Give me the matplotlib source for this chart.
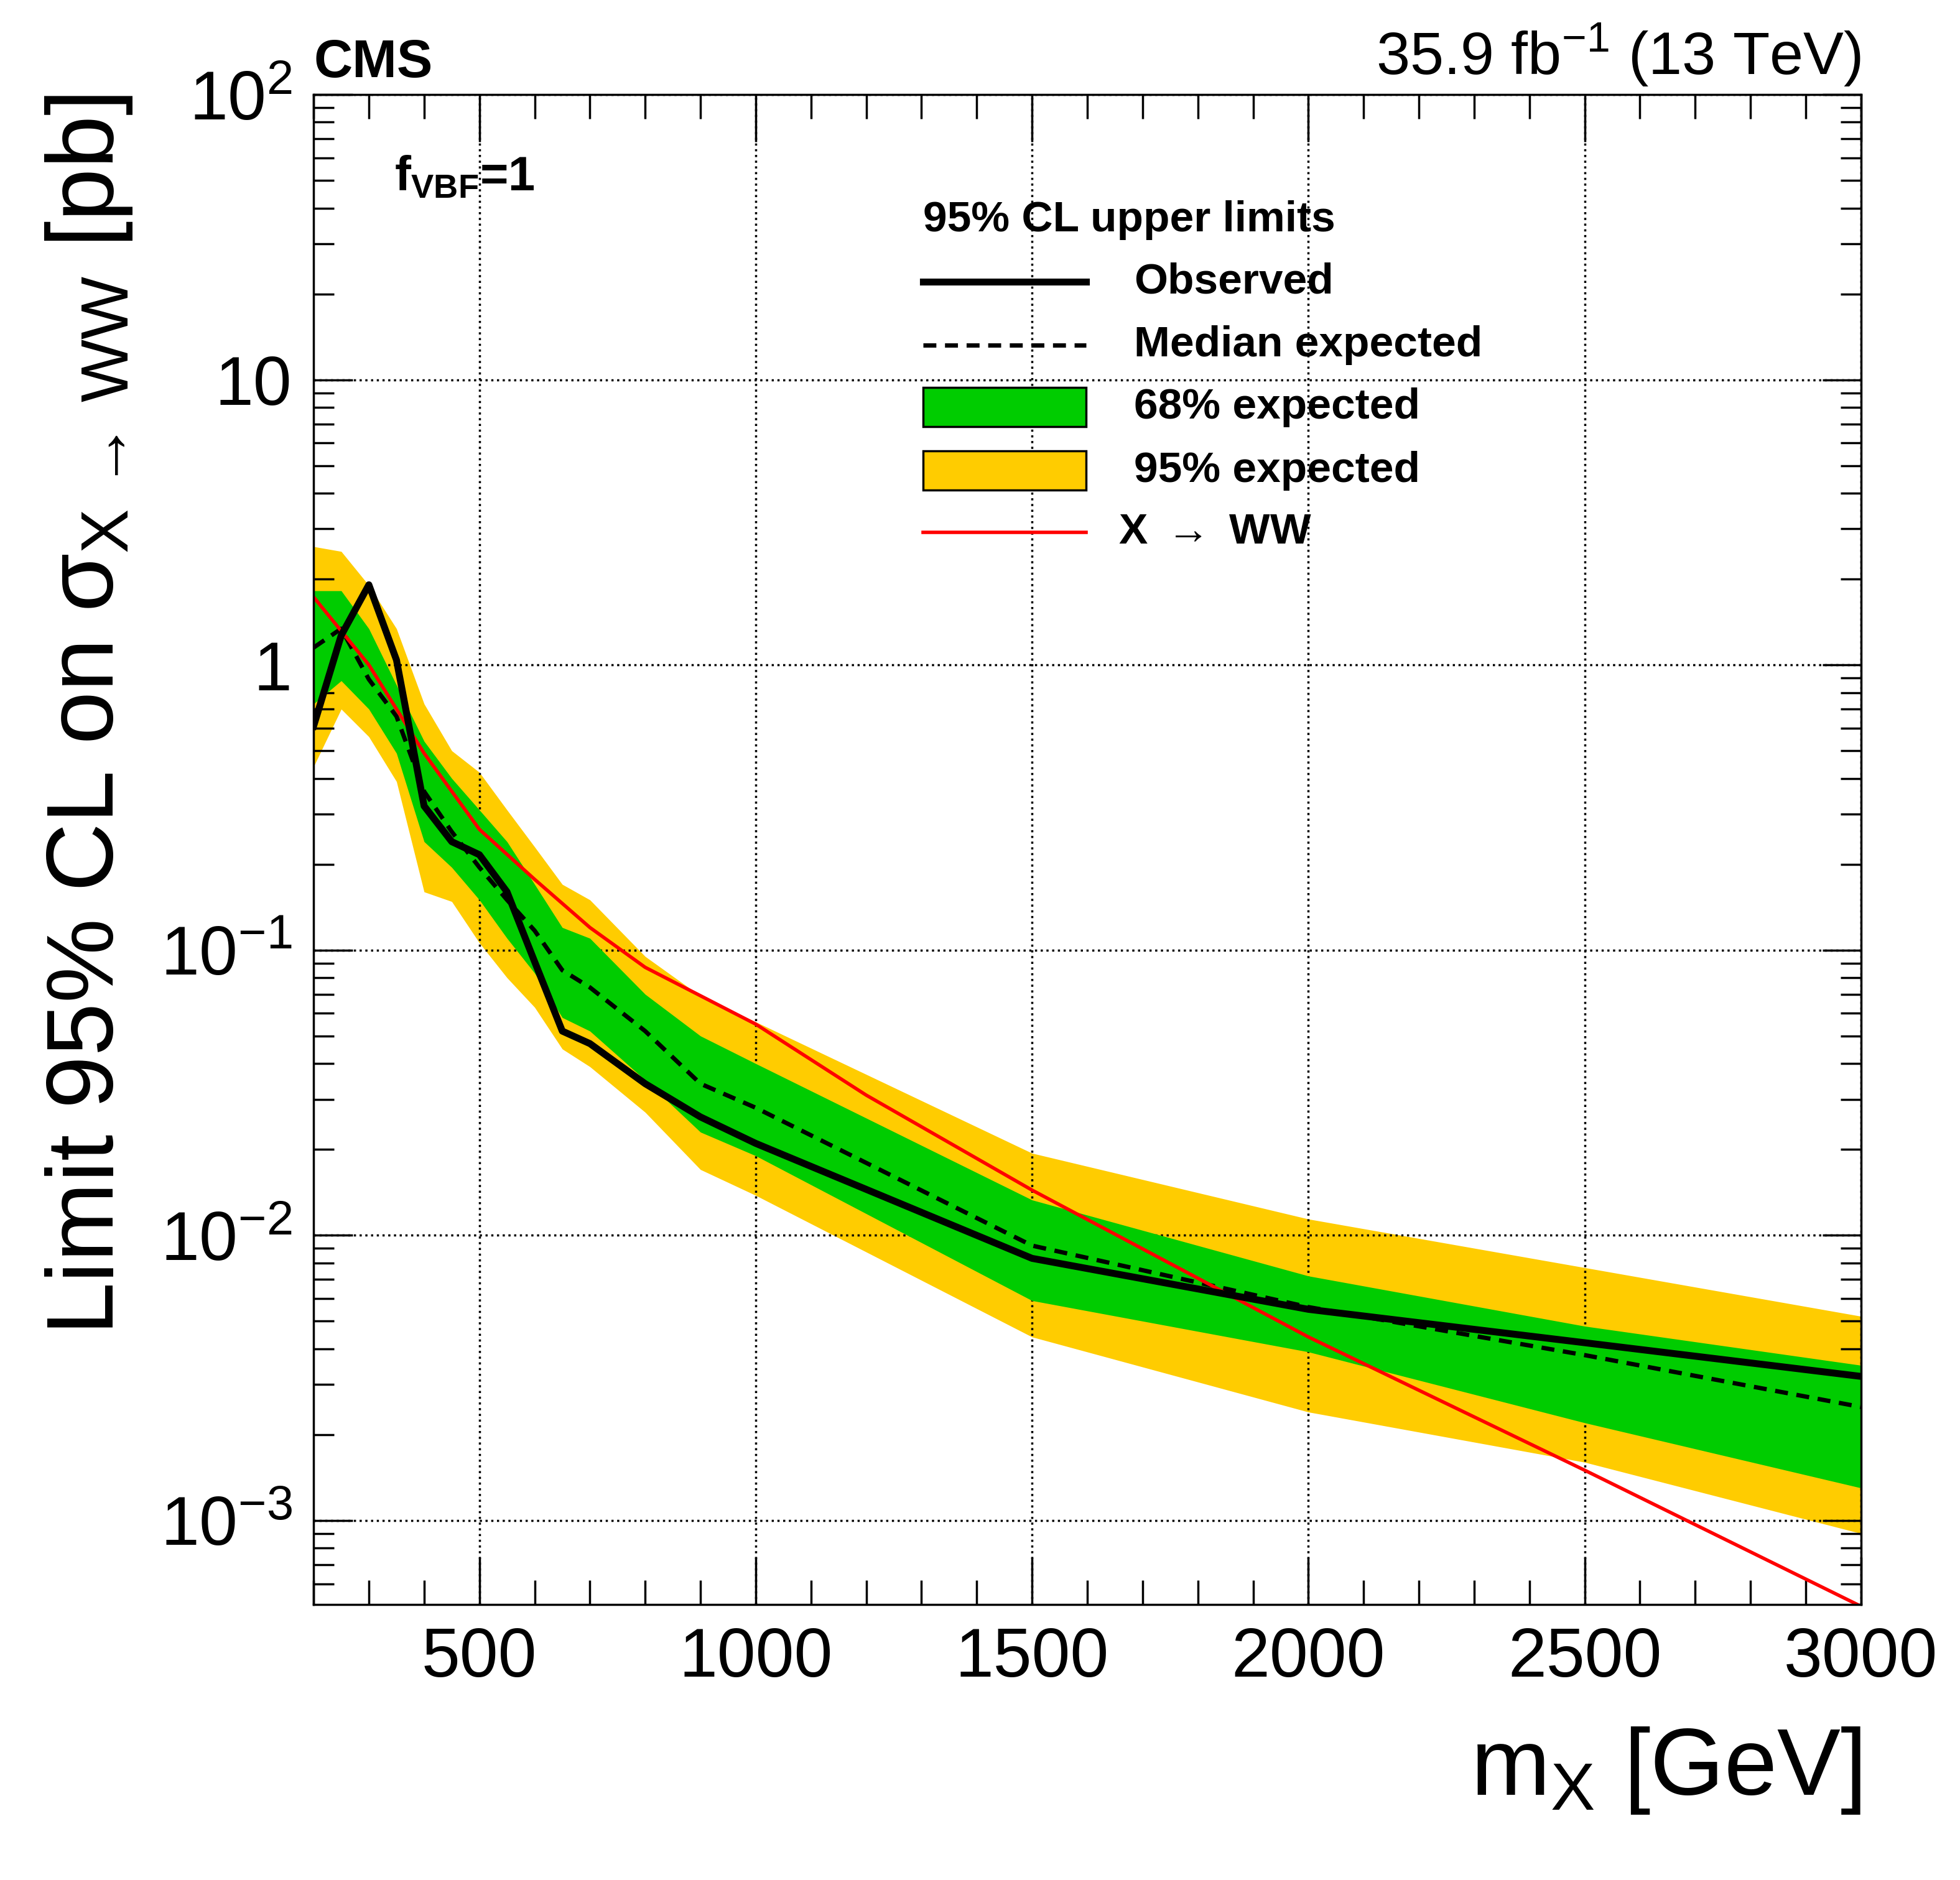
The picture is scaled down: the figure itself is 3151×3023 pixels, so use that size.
import matplotlib
matplotlib.use("Agg")
import matplotlib.pyplot as plt
from matplotlib.patches import Rectangle
from matplotlib.ticker import FixedLocator, NullFormatter, LogLocator

plt.rcParams['font.family'] = ['Liberation Sans', 'DejaVu Sans']
plt.rcParams['mathtext.fontset'] = 'custom'
plt.rcParams['mathtext.rm'] = 'Liberation Sans'
plt.rcParams['mathtext.it'] = 'Liberation Sans'
plt.rcParams['mathtext.bf'] = 'Liberation Sans:bold'

mass = [200, 250, 300, 350, 400, 450, 500, 550, 600, 650, 700, 800, 900, 1000, 1500, 2000, 2500, 3000]
observed = [0.61, 1.27, 1.91, 1.04, 0.32, 0.24, 0.216, 0.16, 0.091, 0.052, 0.047, 0.034, 0.026, 0.021, 0.0083, 0.0055, 0.0042, 0.0032]
expected = [1.15, 1.34, 0.89, 0.66, 0.36, 0.26, 0.195, 0.15, 0.117, 0.085, 0.074, 0.052, 0.034, 0.028, 0.0092, 0.0056, 0.0038, 0.0025]
s1_up = [1.82, 1.82, 1.34, 0.85, 0.54, 0.40, 0.31, 0.24, 0.17, 0.12, 0.11, 0.070, 0.050, 0.040, 0.0133, 0.0072, 0.0048, 0.0035]
s1_dn = [0.73, 0.88, 0.70, 0.49, 0.24, 0.195, 0.15, 0.11, 0.083, 0.058, 0.052, 0.035, 0.023, 0.019, 0.0059, 0.0039, 0.0022, 0.0013]
s2_up = [2.6, 2.5, 1.9, 1.34, 0.73, 0.50, 0.42, 0.31, 0.23, 0.17, 0.15, 0.095, 0.069, 0.056, 0.0194, 0.0114, 0.0077, 0.0052]
s2_dn = [0.44, 0.70, 0.56, 0.39, 0.16, 0.148, 0.106, 0.08, 0.063, 0.045, 0.039, 0.027, 0.017, 0.0138, 0.0044, 0.0024, 0.0016, 0.0009]
th_mass = [200, 300, 400, 500, 600, 700, 800, 1000, 1200, 1500, 2000, 2500, 3000]
theory = [1.73, 1.0, 0.49, 0.265, 0.177, 0.12, 0.087, 0.055, 0.031, 0.0144, 0.0044, 0.0015, 0.0005]

fig = plt.figure(figsize=(31.51, 30.23), dpi=100)
ax = fig.add_axes([0.160, 0.1465, 0.7895, 0.8032])
ax.set_yscale('log')
ax.set_xlim(200, 3000)
ax.set_ylim(5.07e-4, 100)

ax.fill_between(mass, s2_dn, s2_up, color='#ffcc00', lw=0, zorder=2)
ax.fill_between(mass, s1_dn, s1_up, color='#00cc00', lw=0, zorder=3)
ax.plot(mass, expected, color='black', ls=(0, (3, 2)), lw=5, zorder=4)
ax.plot(th_mass, theory, color='#ff0000', lw=4, zorder=5)
ax.plot(mass, observed, color='black', lw=8, zorder=6)

ax.xaxis.set_major_locator(FixedLocator([500, 1000, 1500, 2000, 2500, 3000]))
ax.xaxis.set_minor_locator(FixedLocator(list(range(200, 3001, 100))))
ax.yaxis.set_major_locator(FixedLocator([1e-3, 1e-2, 1e-1, 1, 10, 100]))
ax.yaxis.set_minor_locator(LogLocator(base=10, subs=range(2, 10), numticks=20))
ax.yaxis.set_minor_formatter(NullFormatter())
ax.set_yticklabels([r'$10^{-3}$', r'$10^{-2}$', r'$10^{-1}$', '1', '10', r'$10^{2}$'])
ax.tick_params(which='both', direction='in', top=True, right=True, labelsize=80, width=2.5)
ax.tick_params(which='major', length=55, pad=25)
ax.tick_params(which='minor', length=28)
ax.tick_params(axis='y', which='major', length=45)
ax.tick_params(axis='y', which='minor', length=24)
for s in ax.spines.values():
    s.set_linewidth(2.5)
    s.set_zorder(10)
ax.grid(True, which='major', color='black', ls=':', lw=2.5, zorder=1)
ax.set_axisbelow(False)
for gl in ax.get_xgridlines() + ax.get_ygridlines():
    gl.set_zorder(1)

# legend background
ax.add_patch(Rectangle((0.37, 0.688), 0.613, 0.25, transform=ax.transAxes,
                       facecolor='white', edgecolor='none', zorder=1.5))
fs = 50
ax.text(0.394, 0.917, '95% CL upper limits', transform=ax.transAxes, fontsize=fs,
        fontweight='bold', va='center', zorder=11)
rows = [0.876, 0.834, 0.793, 0.751, 0.710]
labels = ['Observed', 'Median expected', '68% expected', '95% expected', r'X $\rightarrow$ WW']
x0, x1, xt = 0.394, 0.499, 0.530
ax.plot([x0, x1], [rows[0]] * 2, transform=ax.transAxes, color='black', lw=8, zorder=11)
ax.plot([x0, x1], [rows[1]] * 2, transform=ax.transAxes, color='black', lw=5, ls=(0, (3, 2)), zorder=11)
ax.add_patch(Rectangle((x0, rows[2] - 0.013), x1 - x0, 0.026, transform=ax.transAxes,
                       facecolor='#00cc00', edgecolor='black', lw=2.5, zorder=11))
ax.add_patch(Rectangle((x0, rows[3] - 0.013), x1 - x0, 0.026, transform=ax.transAxes,
                       facecolor='#ffcc00', edgecolor='black', lw=2.5, zorder=11))
ax.plot([x0, x1], [rows[4]] * 2, transform=ax.transAxes, color='#ff0000', lw=4, zorder=11)
for r, l in zip(rows, labels):
    ax.text(xt if r != rows[4] else xt - 0.01, r, l, transform=ax.transAxes, fontsize=fs,
            fontweight='bold', va='center', zorder=11)

ax.text(0.052, 0.945, r'$\mathbf{f_{VBF}}$=1', transform=ax.transAxes, fontsize=56,
        fontweight='bold', va='center', zorder=11)

fig.text(0.160, 0.953, 'CMS', fontsize=62, fontweight='bold', ha='left', va='bottom')
fig.text(0.9495, 0.953, r'35.9 fb$^{-1}$ (13 TeV)', fontsize=70, ha='right', va='bottom')

ax.set_xlabel(r'm$_{\mathrm{X}}$ [GeV]', fontsize=110, loc='right', labelpad=40)
ax.set_ylabel(r'Limit 95% CL on $\sigma_{\mathrm{X}\,\rightarrow\,\mathrm{WW}}$ [pb]', fontsize=110,
              loc='top', labelpad=30)

fig.savefig('out.png', dpi=100)
